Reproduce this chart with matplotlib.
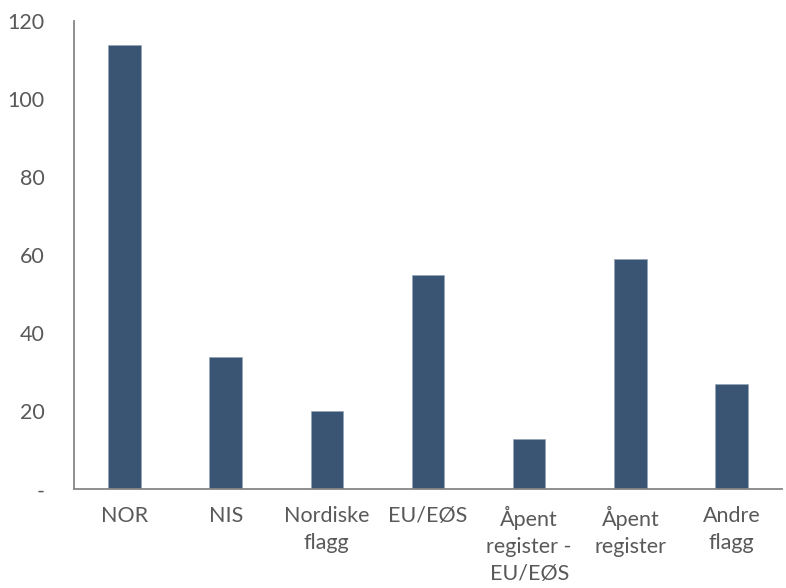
import matplotlib
matplotlib.use("Agg")
import matplotlib.pyplot as plt

categories = ["NOR", "NIS", "Nordiske\nflagg", "EU/EØS", "Åpent\nregister -\nEU/EØS", "Åpent\nregister", "Andre\nflagg"]
values = [114, 34, 20, 55, 13, 59, 27]
yticks = [0, 20, 40, 60, 80, 100, 120]
yticklabels = ["-", "20", "40", "60", "80", "100", "120"]

plt.rcParams['font.family'] = ['Lato', 'DejaVu Sans']
fig = plt.figure(figsize=(7.86, 5.88), dpi=100)
ax = fig.add_axes([0.094, 0.168, 0.901, 0.796])
x = list(range(len(categories)))
ax.bar(x, values, width=0.32, color="#3A5573", edgecolor="#8FA3B8", linewidth=0.4)
ax.set_xlim(-0.5, len(categories) - 0.5)
ax.set_ylim(0, 120)
ax.set_yticks(yticks)
ax.set_yticklabels(yticklabels)
ax.set_xticks(x)
ax.set_xticklabels(categories, linespacing=1.45)
ax.tick_params(axis='both', length=0, labelsize=15.5, colors="#595959")
ax.tick_params(axis='y', pad=21)
ax.tick_params(axis='x', pad=12)
for s in ["top", "right"]:
    ax.spines[s].set_visible(False)
for s in ["left", "bottom"]:
    ax.spines[s].set_color("#868686")
    ax.spines[s].set_linewidth(1.3)
fig.savefig("out.png", dpi=100)
